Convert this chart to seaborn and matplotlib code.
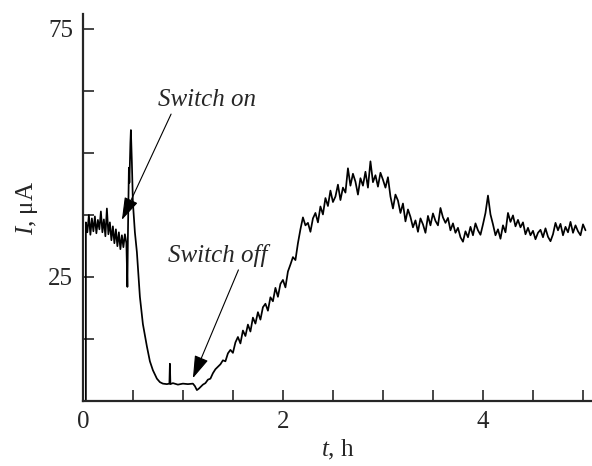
import numpy as np
import pandas as pd
import matplotlib
matplotlib.use("Agg")
import matplotlib.pyplot as plt
import seaborn as sns

# --- data ---
# start of the record: jump from zero, noisy plateau, switch-on spike, decay, flat minimum
t_early = [0.03, 0.03, 0.045, 0.06, 0.075, 0.09, 0.105, 0.12, 0.135, 0.15, 0.165,
           0.18, 0.195, 0.21, 0.225, 0.24, 0.255, 0.27, 0.285, 0.30, 0.315, 0.33,
           0.345, 0.36, 0.375, 0.39, 0.405, 0.42, 0.435, 0.445, 0.45, 0.46, 0.465,
           0.475, 0.48, 0.49, 0.50, 0.52, 0.54, 0.57, 0.60, 0.64, 0.67, 0.70, 0.74,
           0.77, 0.80, 0.84, 0.865, 0.87, 0.875, 0.90, 0.95, 1.00, 1.05, 1.10, 1.12,
           1.14, 1.16, 1.18]
I_early = [0, 36, 34, 37.5, 33.5, 36.8, 34.2, 37.2, 33.8, 36.5, 34.6,
           38.2, 34.0, 36.6, 33.2, 38.8, 33.6, 36.0, 32.4, 35.2, 31.8, 34.6,
           31.2, 34.0, 30.6, 33.4, 31.0, 33.6, 31.8, 23, 33, 47, 44,
           52, 54.6, 48, 40, 34, 30, 21, 15.5, 11, 8, 6.2, 4.5,
           3.8, 3.5, 3.4, 3.5, 7.5, 3.4, 3.6, 3.3, 3.5, 3.4, 3.5, 3.0,
           2.2, 2.5, 2.9]

# rest of the record, sampled every 0.025 h starting at 1.2 h
t_start = 1.2
t_step = 0.025
I_late = [3.3, 3.6, 4.3, 4.5, 5.6, 6.4, 6.9, 7.4, 8.2, 8.0, 9.6, 10.3,
          9.7, 11.8, 12.9, 11.6, 14.2, 13.1, 15.4, 14.0, 16.8, 15.6, 17.9, 16.4,
          18.9, 19.6, 18.2, 20.9, 20.1, 22.8, 21.0, 23.6, 24.4, 22.9, 26.1, 27.5,
          29.0, 28.4, 31.8, 34.6, 37.0, 35.4, 35.9, 34.1, 36.8, 37.9, 36.0, 39.2,
          37.6, 40.9, 39.3, 42.4, 40.1, 41.2, 43.6, 40.5, 43.0, 42.0, 46.9, 43.4,
          45.8, 44.2, 41.6, 44.9, 43.4, 46.2, 43.0, 48.3, 44.1, 45.5, 43.2, 46.0,
          44.6, 43.0, 45.1, 41.2, 38.8, 41.6, 40.4, 37.9, 39.8, 36.2, 38.6, 37.1,
          35.0, 36.4, 34.1, 36.8, 35.6, 33.9, 37.3, 35.4, 37.8, 36.3, 35.4, 38.9,
          37.0, 35.9, 36.9, 34.4, 35.8, 33.9, 34.9, 33.0, 32.1, 34.2, 33.0, 35.1,
          33.4, 35.8, 34.4, 33.5, 35.6, 37.9, 41.4, 37.6, 35.6, 33.4, 34.6, 32.7,
          35.4, 34.0, 37.9, 36.1, 37.4, 35.2, 36.5, 35.0, 36.0, 33.6, 34.9, 33.4,
          34.3, 32.6, 33.9, 34.5, 33.0, 34.8, 33.1, 32.2, 33.6, 35.9, 34.4, 35.7,
          33.4, 35.1, 34.0, 36.1, 33.9, 35.4, 34.2, 33.4, 35.6, 34.4]

y_ticks = [12.5, 25, 37.5, 50, 62.5, 75]
y_tick_labels = ["", "25", "", "", "", "75"]
x_ticks = [0, 0.5, 1, 1.5, 2, 2.5, 3, 3.5, 4, 4.5, 5]
x_tick_labels = ["0", "", "", "", "2", "", "", "", "4", "", ""]

t_late = t_start + t_step * np.arange(len(I_late))
df = pd.DataFrame({"t": list(t_early) + list(t_late),
                   "I": I_early + I_late})

# --- style ---
sns.set_style("ticks")
plt.rcParams["font.family"] = ["Liberation Serif", "DejaVu Serif"]
plt.rcParams["mathtext.fontset"] = "custom"
plt.rcParams["mathtext.rm"] = "Liberation Serif"
plt.rcParams["mathtext.it"] = "Liberation Serif:italic"

fig = plt.figure(figsize=(5.92, 4.66), dpi=100)
ax = fig.add_axes([0.140, 0.1395, 0.86, 0.8305])

sns.lineplot(data=df, x="t", y="I", sort=False, estimator=None,
             color="black", linewidth=1.25, ax=ax)

ax.set_xlim(0, 5.09)
ax.set_ylim(0, 78)
ax.set_xticks(x_ticks)
ax.set_xticklabels(x_tick_labels)
ax.set_yticks(y_ticks)
ax.set_yticklabels(y_tick_labels)
ax.tick_params(direction="in", length=8, width=1.2, labelsize=18, pad=7)

sns.despine(ax=ax)
for side in ["left", "bottom"]:
    ax.spines[side].set_linewidth(1.6)

ax.set_xlabel(r"$\mathit{t}$, h", fontsize=18, labelpad=4)
ax.set_ylabel(r"$\mathit{I}$, μA", fontsize=18, labelpad=6)

arrow = dict(arrowstyle="-|>,head_length=1.0,head_width=0.32",
             color="black", lw=0.8, shrinkA=0, shrinkB=0, mutation_scale=14)
ax.annotate("Switch on", xy=(0.39, 36.5), xytext=(1.24, 60.7),
            fontsize=18, style="italic", ha="center", va="center",
            arrowprops=dict(arrow, relpos=(0.15, 0.0)))
ax.annotate("Switch off", xy=(1.10, 4.6), xytext=(1.35, 29.4),
            fontsize=18, style="italic", ha="center", va="center",
            arrowprops=dict(arrow, relpos=(0.72, 0.0)))

plt.savefig("out.png", dpi=100)
